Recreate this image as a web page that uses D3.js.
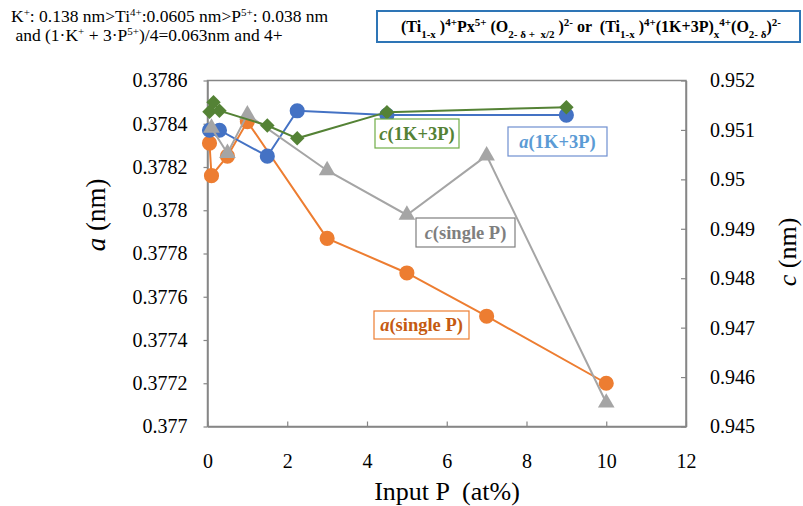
<!DOCTYPE html>
<html>
<head>
<meta charset="utf-8">
<script src="https://cdn.jsdelivr.net/npm/d3@7/dist/d3.min.js"></script>
<style>
  body { margin: 0; background: #fff; }
  svg { display: block; font-family: "Liberation Serif", "Times New Roman", serif; }
  text { white-space: pre; }
</style>
</head>
<body>
<div id="chart"></div>
<script>
// data
var xTicks = [0, 2, 4, 6, 8, 10, 12];
var aTicks = [0.377, 0.3772, 0.3774, 0.3776, 0.3778, 0.378, 0.3782, 0.3784, 0.3786];
var cTicks = [0.945, 0.946, 0.947, 0.948, 0.949, 0.95, 0.951, 0.952];

var aSingleX = [0.05, 0.1, 0.5, 1, 3, 5, 7, 10];
var aSingleY = [0.37831, 0.37816, 0.37825, 0.37841, 0.37787, 0.37771, 0.37751, 0.3772];

var a1k3pX = [0.05, 0.3, 1.5, 2.25, 4.5, 9];
var a1k3pY = [0.37837, 0.37837, 0.37825, 0.37846, 0.37844, 0.37844];

var cSingleX = [0.1, 0.5, 1, 3, 5, 7, 10];
var cSingleY = [0.95104, 0.95053, 0.95131, 0.95018, 0.94928, 0.95048, 0.94548];

var c1k3pX = [0.05, 0.15, 0.3, 1.5, 2.25, 4.5, 9];
var c1k3pY = [0.95137, 0.95156, 0.95139, 0.95109, 0.95083, 0.95136, 0.95146];

var svgWidth = 803, svgHeight = 506;
var plotLeft = 207.5, plotRight = 686, plotTop = 80.5, plotBottom = 426.5;

var svg = d3.select("#chart").append("svg")
    .attr("width", svgWidth)
    .attr("height", svgHeight);

var x = d3.scaleLinear().domain([0, 12]).range([plotLeft, plotRight]);
var yA = d3.scaleLinear().domain([0.377, 0.3786]).range([plotBottom, plotTop]);
var yC = d3.scaleLinear().domain([0.945, 0.952]).range([plotBottom, plotTop]);

var axisColor = "#868686";

// frame
svg.append("rect")
    .attr("x", plotLeft).attr("y", plotTop)
    .attr("width", plotRight - plotLeft).attr("height", plotBottom - plotTop)
    .attr("fill", "none").attr("stroke", axisColor).attr("stroke-width", 1.5);

// x axis (ticks pointing inward)
var xAxis = svg.append("g")
    .attr("transform", "translate(0," + plotBottom + ")")
    .call(d3.axisBottom(x).tickValues(xTicks).tickSizeInner(-5).tickSizeOuter(0).tickPadding(27));
// left axis
var aAxis = svg.append("g")
    .attr("transform", "translate(" + plotLeft + ",0)")
    .call(d3.axisLeft(yA).tickValues(aTicks).tickSizeInner(4).tickSizeOuter(0).tickPadding(16)
        .tickFormat(function(d){ return String(+d.toFixed(4)); }));
// right axis (ticks pointing inward)
var cAxis = svg.append("g")
    .attr("transform", "translate(" + plotRight + ",0)")
    .call(d3.axisRight(yC).tickValues(cTicks).tickSizeInner(-5).tickSizeOuter(0).tickPadding(24)
        .tickFormat(function(d){ return String(+d.toFixed(3)); }));

[xAxis, aAxis, cAxis].forEach(function(g){
    g.attr("font-family", null);
    g.select(".domain").attr("stroke", axisColor).attr("stroke-width", 1.5);
    g.selectAll(".tick line").attr("stroke", axisColor).attr("stroke-width", 1.2);
    g.selectAll(".tick text")
        .attr("fill", "#000")
        .style("font-family", "'Liberation Serif', serif")
        .style("font-size", "20px");
});

// axis titles
svg.append("text")
    .attr("x", 447).attr("y", 500)
    .attr("text-anchor", "middle")
    .style("font-size", "26px")
    .text("Input P  (at%)");

var aTitle = svg.append("text")
    .attr("transform", "translate(105,215) rotate(-90)")
    .attr("text-anchor", "middle")
    .style("font-size", "27px");
aTitle.append("tspan").style("font-style", "italic").text("a");
aTitle.append("tspan").text(" (nm)");

var cTitle = svg.append("text")
    .attr("transform", "translate(796,252) rotate(-90)")
    .attr("text-anchor", "middle")
    .style("font-size", "26px");
cTitle.append("tspan").style("font-style", "italic").text("c");
cTitle.append("tspan").text(" (nm)");

// series
var series = [
    {xs: aSingleX, ys: aSingleY, scale: yA, color: "#ed7d31", shape: d3.symbolCircle, size: 180, rot: 0},
    {xs: a1k3pX, ys: a1k3pY, scale: yA, color: "#4472c4", shape: d3.symbolCircle, size: 180, rot: 0},
    {xs: cSingleX, ys: cSingleY, scale: yC, color: "#a5a5a5", shape: d3.symbolTriangle, size: 120, rot: 0},
    {xs: c1k3pX, ys: c1k3pY, scale: yC, color: "#548235", shape: d3.symbolSquare, size: 105, rot: 45}
];

var line = d3.line()
    .x(function(d){ return x(d.x); })
    .y(function(d){ return d.y; })
    .curve(d3.curveLinear);

series.forEach(function(s){
    var pts = s.xs.map(function(v, i){ return {x: v, y: s.scale(s.ys[i])}; });
    var g = svg.append("g");
    g.append("path")
        .attr("fill", "none")
        .attr("stroke", s.color)
        .attr("stroke-width", 2)
        .attr("d", line(pts));
    g.selectAll("path.mark")
        .data(pts)
        .enter().append("path")
            .attr("class", "mark")
            .attr("transform", function(d){ return "translate(" + x(d.x) + "," + d.y + ") rotate(" + s.rot + ")"; })
            .attr("d", d3.symbol().type(s.shape).size(s.size))
            .attr("fill", s.color);
});

// label boxes
var labels = [
    {v: "c", rest: "(1K+3P)", x: 375, y: 119, w: 84, h: 29, text: "#548235", border: "#70ad47"},
    {v: "a", rest: "(1K+3P)", x: 508, y: 127, w: 99, h: 29, text: "#5b9bd5", border: "#6f8fd0"},
    {v: "c", rest: "(single P)", x: 416, y: 218, w: 99, h: 29, text: "#7f7f7f", border: "#7f7f7f"},
    {v: "a", rest: "(single P)", x: 374, y: 311, w: 95, h: 28, text: "#c55a11", border: "#ed7d31"}
];

labels.forEach(function(l){
    svg.append("rect")
        .attr("x", l.x).attr("y", l.y).attr("width", l.w).attr("height", l.h)
        .attr("fill", "#fff").attr("stroke", l.border).attr("stroke-width", 1.2);
    var t = svg.append("text")
        .attr("x", l.x + l.w / 2).attr("y", l.y + l.h / 2 + 6)
        .attr("text-anchor", "middle")
        .attr("fill", l.text)
        .style("font-size", "18.5px")
        .style("font-weight", "bold");
    t.append("tspan").style("font-style", "italic").text(l.v);
    t.append("tspan").text(l.rest);
});

// top-left note
function richText(sel, parts, small) {
    parts.forEach(function(p){
        var ts = sel.append("tspan").text(p[0]);
        if (p[1] === "sup") ts.attr("baseline-shift", "super").style("font-size", small);
        if (p[1] === "sub") ts.attr("baseline-shift", "sub").style("font-size", small);
    });
}

var note1 = svg.append("text").attr("x", 11).attr("y", 22).style("font-size", "17.5px");
richText(note1, [["K"], ["+", "sup"], [": 0.138 nm>Ti"], ["4+", "sup"], [":0.0605 nm>P"], ["5+", "sup"], [": 0.038 nm"]], "11px");
var note2 = svg.append("text").attr("x", 11).attr("y", 41).style("font-size", "17.5px");
richText(note2, [[" and (1·K"], ["+", "sup"], [" + 3·P"], ["5+", "sup"], [")/4=0.063nm and 4+"]], "11px");

// formula box
svg.append("rect")
    .attr("x", 377).attr("y", 11).attr("width", 423).attr("height", 31)
    .attr("fill", "#fff").attr("stroke", "#2e75b6").attr("stroke-width", 2);
var formula = svg.append("text")
    .attr("x", 591).attr("y", 32)
    .attr("text-anchor", "middle")
    .style("font-size", "16px")
    .style("font-weight", "bold");
richText(formula, [
    ["(Ti"], ["1-x", "sub"], [" )"], ["4+", "sup"], ["Px"], ["5+", "sup"], [" (O"], ["2- δ +  x/2", "sub"], [" )"], ["2-", "sup"],
    [" or  (Ti"], ["1-x", "sub"], [" )"], ["4+", "sup"], ["(1K+3P)"], ["x", "sub"], ["4+", "sup"], ["(O"], ["2- δ", "sub"], [")"], ["2-", "sup"]
], "11px");
</script>
</body>
</html>
